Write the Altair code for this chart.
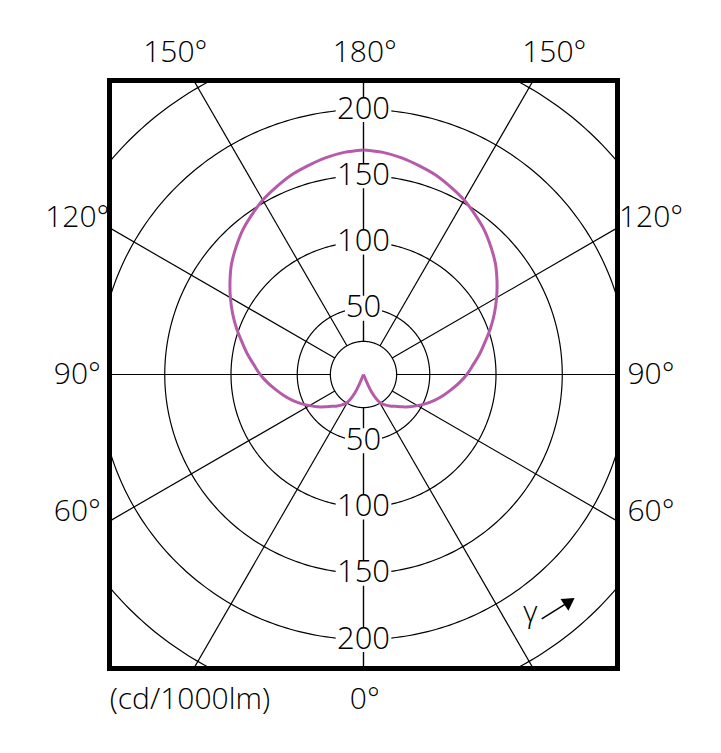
import numpy as np
import pandas as pd
import altair as alt

# ---- data (gamma in degrees, intensity in cd/1000lm) ----
gamma_deg = [20, 25, 30, 35, 40, 45, 50, 55, 60, 65, 70, 75, 80, 85, 90,
             95, 100, 105, 110, 115, 120, 125, 130, 135, 140, 145, 150, 155, 160, 165,
             170, 175, 180]
intensity = [0, 15, 24, 28, 31, 34, 38, 42.5, 47, 52, 57, 62, 67, 72.5, 78,
             83, 89, 95, 102, 109, 116, 123, 130, 136, 142, 147, 152, 156, 160, 163,
             166, 168.3, 169.5]

ring_radii = [25, 50, 100, 150, 200, 250]
ring_labels = [50, 100, 150, 200]
spoke_angles = [0, 30, 60, 90, 120, 150, 180]

angle_label_text = ["150°", "180°", "150°", "120°", "120°", "90°", "90°", "60°", "60°",
                    "(cd/1000lm)", "0°"]
angle_label_x = [-142, 1, 144, -216, 217, -216, 217, -216, 217, -131, 1]
angle_label_y = [243, 243, 243, 118, 118, 0, 0, -104, -104, -246, -246]

FONT = "Open Sans"
CURVE_COLOR = "#b65ba9"
K = 1.325  # px per cd/1000lm
W, H = 508, 588
XH, YH = W / 2 / K, H / 2 / K

xs = alt.Scale(domain=[-XH, XH], nice=False, zero=False)
ys = alt.Scale(domain=[-YH, YH], nice=False, zero=False)
X = alt.X("x:Q", scale=xs, axis=None)
Y = alt.Y("y:Q", scale=ys, axis=None)

# curve (symmetric): two halves, each starting at the origin
g = np.radians(gamma_deg)
I = np.array(intensity, dtype=float)
right = pd.DataFrame({"x": I * np.sin(g), "y": -I * np.cos(g), "side": "R",
                      "o": np.arange(len(I))})
left = pd.DataFrame({"x": -I * np.sin(g), "y": -I * np.cos(g), "side": "L",
                     "o": np.arange(len(I))})
curve_df = pd.concat([right, left], ignore_index=True)

# rings
t = np.linspace(0, 2 * np.pi, 361)
ring_rows = []
for r in ring_radii:
    for i, a in enumerate(t):
        ring_rows.append({"x": r * np.cos(a), "y": r * np.sin(a), "r": r, "o": i})
ring_df = pd.DataFrame(ring_rows)

# spokes
spoke_rows = []
for a in spoke_angles:
    for s in (-1, 1):
        ar = np.radians(a)
        spoke_rows.append({"x": s * 25 * np.sin(ar), "y": -25 * np.cos(ar),
                           "x2": s * 450 * np.sin(ar), "y2": -450 * np.cos(ar)})
spoke_df = pd.DataFrame(spoke_rows)

# ring value labels on the vertical axis
lab_rows = []
for v in ring_labels:
    hw = 21 if v >= 100 else 14
    for s in (1, -1):
        lab_rows.append({"x": 0, "y": s * v, "t": str(v),
                         "bx": -hw, "bx2": hw, "by": s * v - 9.5, "by2": s * v + 9.5})
lab_df = pd.DataFrame(lab_rows)

ang_df = pd.DataFrame({"x": angle_label_x, "y": angle_label_y, "t": angle_label_text})

rings = alt.Chart(ring_df).mark_line(color="black", strokeWidth=1.2, clip=True).encode(
    x=X, y=Y, detail="r:N", order="o:Q")
spokes = alt.Chart(spoke_df).mark_rule(color="black", strokeWidth=1.2, clip=True).encode(
    x=X, y=Y, x2="x2:Q", y2="y2:Q")
boxes = alt.Chart(lab_df).mark_rect(color="white", opacity=1).encode(
    x=alt.X("bx:Q", scale=xs, axis=None), x2="bx2:Q",
    y=alt.Y("by:Q", scale=ys, axis=None), y2="by2:Q")
labels = alt.Chart(lab_df).mark_text(font=FONT, fontSize=31, fontWeight=300, color="black",
                                     baseline="middle").encode(x=X, y=Y, text="t:N")
curve = alt.Chart(curve_df).mark_line(color=CURVE_COLOR, strokeWidth=3, clip=True,
                                      interpolate="catmull-rom").encode(
    x=X, y=Y, detail="side:N", order="o:Q")
ang_labels = alt.Chart(ang_df).mark_text(font=FONT, fontSize=30, fontWeight=300, color="black",
                                         baseline="middle").encode(x=X, y=Y, text="t:N")

# gamma direction annotation
gam_df = pd.DataFrame({"x": [126], "y": [-180], "t": ["γ"]})
gam = alt.Chart(gam_df).mark_text(font=FONT, fontSize=30, fontWeight=300, color="black",
                                  baseline="middle").encode(x=X, y=Y, text="t:N")
arr_df = pd.DataFrame({"x": [134.5], "y": [-184.5], "x2": [152.0], "y2": [-173.5]})
arr = alt.Chart(arr_df).mark_rule(color="black", strokeWidth=1.5).encode(
    x=X, y=Y, x2="x2:Q", y2="y2:Q")
head_df = pd.DataFrame({"x": [155.5], "y": [-171.2]})
head = alt.Chart(head_df).mark_point(shape="triangle-up", filled=True, color="black",
                                     opacity=1, size=200, angle=56).encode(x=X, y=Y)

chart = alt.layer(rings, spokes, curve, boxes, labels, ang_labels, gam, arr, head).properties(
    width=W, height=H,
    padding={"left": 101.5, "top": 72.5, "right": 95, "bottom": 80},
    autosize=alt.AutoSizeParams(type="none"),
).configure_view(stroke="black", strokeWidth=5)

chart.save("out.html", embed_options={"renderer": "svg", "actions": False})
